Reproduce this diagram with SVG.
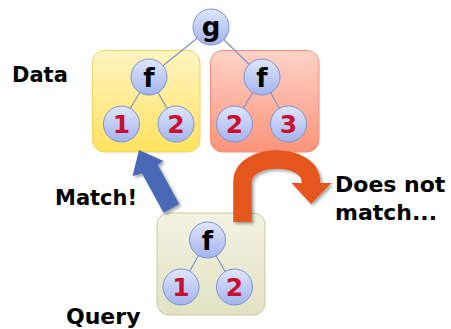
<svg xmlns="http://www.w3.org/2000/svg" width="451" height="329" viewBox="0 0 451 329">
<defs>
<linearGradient id="gy" x1="0" y1="0" x2="0" y2="1"><stop offset="0" stop-color="#fff5c2"/><stop offset="1" stop-color="#ffe25e"/></linearGradient>
<linearGradient id="gr" x1="0" y1="0" x2="0" y2="1"><stop offset="0" stop-color="#ffd3c8"/><stop offset="1" stop-color="#fa937a"/></linearGradient>
<linearGradient id="gq" x1="0" y1="0" x2="0" y2="1"><stop offset="0" stop-color="#f3f3e2"/><stop offset="1" stop-color="#e2e2c4"/></linearGradient>
<linearGradient id="gc" x1="0" y1="0" x2="0" y2="1"><stop offset="0" stop-color="#dfe6fb"/><stop offset="1" stop-color="#a3b4ee"/></linearGradient>
<filter id="sh" x="-20%" y="-20%" width="150%" height="150%"><feGaussianBlur in="SourceAlpha" stdDeviation="1.5"/><feOffset dx="1.5" dy="1.5"/><feComponentTransfer><feFuncA type="linear" slope="0.35"/></feComponentTransfer><feMerge><feMergeNode/><feMergeNode in="SourceGraphic"/></feMerge></filter>
</defs>
<style>
.node circle{fill:url(#gc);stroke:#7d92d2;stroke-width:1}
.lbl{font-family:"DejaVu Sans",sans-serif;font-weight:bold;font-size:22px;fill:#000}
.fn{font-family:"DejaVu Sans",sans-serif;font-weight:bold;font-size:26px;fill:#000;text-anchor:middle}
.num{font-family:"DejaVu Sans",sans-serif;font-weight:bold;font-size:25px;fill:#c8102e;text-anchor:middle}
.edge{stroke:#7f93c8;stroke-width:1.2;fill:none}
</style>
<rect x="92.5" y="50.5" width="107.5" height="101.5" rx="12" fill="url(#gy)" stroke="#f3d061" stroke-width="1"/>
<rect x="210.5" y="50.5" width="108.5" height="101.5" rx="12" fill="url(#gr)" stroke="#f0907a" stroke-width="1"/>
<rect x="157" y="213" width="108" height="102" rx="12" fill="url(#gq)" stroke="#c9c9a3" stroke-width="1"/>
<g id="connectors">
<line class="edge" x1="211" y1="27" x2="149" y2="77"/>
<line class="edge" x1="211" y1="27" x2="262" y2="77"/>
<line class="edge" x1="149" y1="77" x2="121" y2="124"/>
<line class="edge" x1="149" y1="77" x2="176" y2="124"/>
<line class="edge" x1="262" y1="77" x2="234" y2="124"/>
<line class="edge" x1="262" y1="77" x2="288" y2="124"/>
<line class="edge" x1="207" y1="240" x2="181" y2="287"/>
<line class="edge" x1="207" y1="240" x2="234" y2="287"/>
<polygon id="match-arrow" filter="url(#sh)" fill="#4a69b6" points="139,150 163.5,161 157.7,164.7 179.3,204.1 163.7,212.9 142,173.5 132.5,176"/>
<g id="nomatch-arrow" filter="url(#sh)">
<path d="M242.5,222 V182 C242.5,152 311,152 311,182 V184" fill="none" stroke="#e4561c" stroke-width="18.5"/>
<polygon points="291.5,183 331.5,183 311,204" fill="#e4561c"/>
</g>
</g>
<g id="g" class="node"><circle cx="211" cy="27" r="18"/><text class="fn" x="211" y="36">g</text></g>
<g id="f1" class="node"><circle cx="149" cy="77" r="18"/><text class="fn" x="149" y="87">f</text></g>
<g id="d1" class="node"><circle cx="121.5" cy="124" r="18"/><text class="num" x="121.5" y="133">1</text></g>
<g id="d2" class="node"><circle cx="176" cy="124" r="18"/><text class="num" x="176" y="133">2</text></g>
<g id="f2" class="node"><circle cx="262" cy="77" r="18"/><text class="fn" x="262" y="87">f</text></g>
<g id="d3" class="node"><circle cx="234.5" cy="124" r="18"/><text class="num" x="234.5" y="133">2</text></g>
<g id="d4" class="node"><circle cx="288.5" cy="124" r="18"/><text class="num" x="288.5" y="133">3</text></g>
<g id="qf" class="node"><circle cx="207.5" cy="240" r="18"/><text class="fn" x="207.5" y="250">f</text></g>
<g id="q1" class="node"><circle cx="181" cy="287" r="18"/><text class="num" x="181" y="296">1</text></g>
<g id="q2" class="node"><circle cx="234.5" cy="287" r="18"/><text class="num" x="234.5" y="296">2</text></g>
<text class="lbl" x="12" y="81.5" style="font-size:21px">Data</text>
<text class="lbl" x="55" y="205" style="font-size:21px">Match!</text>
<text class="lbl" x="335" y="192">Does not</text>
<text class="lbl" x="335" y="219.5">match...</text>
<text class="lbl" x="66" y="324">Query</text>
</svg>
